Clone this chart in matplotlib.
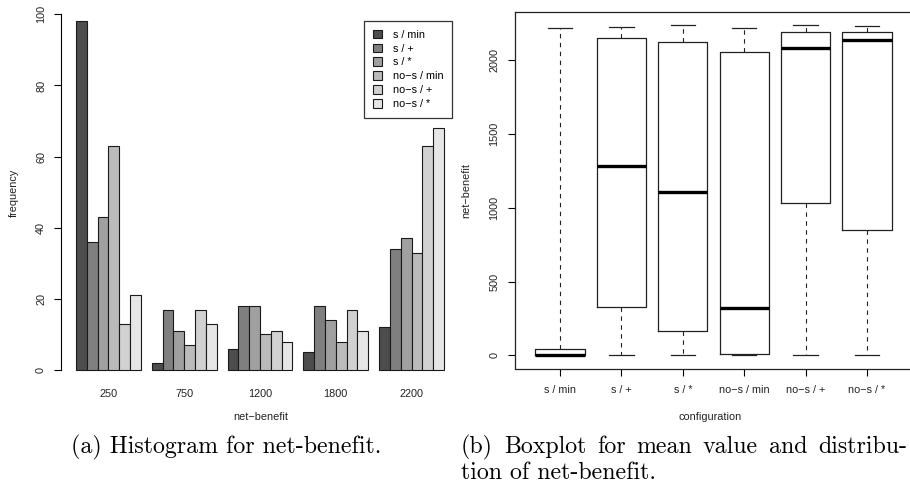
"""
Two-panel figure: grouped histogram of net-benefit and boxplot per configuration.
"""

import matplotlib
matplotlib.use("Agg")
import matplotlib.pyplot as plt
import numpy as np

# bins of net-benefit (x groups in panel a)
bins = ['250', '750', '1200', '1800', '2200']
configs = ['s / min', 's / +', 's / *',
           'no\u2212s / min', 'no\u2212s / +', 'no\u2212s / *']

# frequency per configuration across the bins
s_min = [98, 2, 6, 5, 12]
s_plus = [36, 17, 18, 18, 34]
s_star = [43, 11, 18, 14, 37]
nos_min = [63, 7, 10, 8, 33]
nos_plus = [13, 17, 11, 17, 63]
nos_star = [21, 13, 8, 11, 68]
freq = [s_min, s_plus, s_star, nos_min, nos_plus, nos_star]

# boxplot summary per configuration
whislo = [0, 0, 0, 0, 0, 0]
q1 = [0, 330, 163, 7, 1030, 852]
med = [5, 1285, 1107, 323, 2081, 2140]
q3 = [45, 2151, 2124, 2056, 2192, 2194]
whishi = [2217, 2224, 2237, 2221, 2237, 2231]

W, H = 910, 490
TICK_FONT = 'Liberation Sans'
FS = 7.8
TXT = '#222222'


def px_box(x0, y0, x1, y1):
    # pixel box (top-left origin) -> figure fraction rect
    return [x0 / W, (H - y1) / H, (x1 - x0) / W, (y1 - y0) / H]


def r_grays(n, start=0.3, end=0.9, gamma=2.2):
    # same ramp as R's gray.colors()
    v = np.linspace(start ** gamma, end ** gamma, n) ** (1 / gamma)
    return [(g, g, g) for g in v]


fig = plt.figure(figsize=(W / 100, H / 100), dpi=100)
plt.rcParams['font.family'] = [TICK_FONT, 'DejaVu Sans']

# ---------------- (a) grouped histogram ----------------
ax1 = fig.add_axes(px_box(61.3, 7.5, 458.7, 383.9))
colors = r_grays(len(configs))
n_cfg = len(configs)
handles = []
for i, (vals, col) in enumerate(zip(freq, colors)):
    lefts = [1 + g * (n_cfg + 1) + i for g in range(len(bins))]
    b = ax1.bar(lefts, vals, width=1, align='edge', color=col,
                edgecolor='#1a1a1a', linewidth=0.8, label=configs[i])
    handles.append(b)

centers = [1 + g * (n_cfg + 1) + n_cfg / 2 for g in range(len(bins))]
ax1.set_xlim(-0.36, 36.36)
ax1.set_ylim(-3.92, 101.92)
ax1.set_xticks(centers)
ax1.set_xticklabels(bins)
ax1.set_yticks([0, 20, 40, 60, 80, 100])
ax1.set_yticklabels(['0', '20', '40', '60', '80', '100'], rotation=90, va='center')
for s in ['top', 'right', 'bottom']:
    ax1.spines[s].set_visible(False)
ax1.spines['left'].set_bounds(0, 100)
ax1.spines['left'].set_linewidth(0.8)
ax1.tick_params(axis='x', length=0, pad=4, labelsize=FS, labelcolor=TXT)
ax1.tick_params(axis='y', length=5, width=0.8, pad=6, labelsize=FS, labelcolor=TXT)

leg = ax1.legend(handles=handles, labels=configs, loc='upper right',
                 bbox_to_anchor=(452 / W, 1 - 21 / H), bbox_transform=fig.transFigure,
                 borderaxespad=0, fontsize=FS, fancybox=False, framealpha=1,
                 handlelength=0.85, handleheight=0.85, handletextpad=1.0,
                 labelspacing=0.35, borderpad=0.8)
leg.get_frame().set_edgecolor('#333333')
leg.get_frame().set_linewidth(0.9)

fig.text(14 / W, 1 - 193 / H, 'frequency', rotation=90, ha='center', va='center',
         fontsize=FS, color=TXT)
fig.text(261 / W, 1 - 417 / H, 'net\u2212benefit', ha='center', va='center',
         fontsize=FS, color=TXT)

# ---------------- (b) boxplot ----------------
ax2 = fig.add_axes(px_box(514.6, 12.1, 912.4, 368.5))
stats = []
for i in range(len(configs)):
    stats.append({'whislo': whislo[i], 'q1': q1[i], 'med': med[i],
                  'q3': q3[i], 'whishi': whishi[i], 'fliers': []})
ax2.bxp(stats, positions=range(1, len(configs) + 1), widths=0.8, capwidths=0.4,
        showfliers=False, patch_artist=False,
        boxprops=dict(color='#222222', linewidth=0.9),
        medianprops=dict(color='black', linewidth=2.4, solid_capstyle='butt'),
        whiskerprops=dict(color='#222222', linewidth=0.8, linestyle=(0, (4, 4))),
        capprops=dict(color='#222222', linewidth=0.9))
ax2.set_xlim(0.26, 6.74)
ax2.set_ylim(-89.5, 2326.5)
ax2.set_xticks(range(1, len(configs) + 1))
ax2.set_xticklabels(configs)
ax2.set_yticks([0, 500, 1000, 1500, 2000])
ax2.set_yticklabels(['0', '500', '1000', '1500', '2000'], rotation=90, va='center')
for s in ax2.spines.values():
    s.set_linewidth(0.9)
    s.set_color('#222222')
ax2.tick_params(axis='both', length=5, width=0.8, labelsize=FS, labelcolor=TXT)
ax2.tick_params(axis='x', pad=7)
ax2.tick_params(axis='y', pad=6)

fig.text(466 / W, 1 - 190 / H, 'net\u2212benefit', rotation=90, ha='center', va='center',
         fontsize=FS, color=TXT)
fig.text(710 / W, 1 - 417 / H, 'configuration', ha='center', va='center',
         fontsize=FS, color=TXT)

# ---------------- captions ----------------
cap = dict(family=['cmr10', 'DejaVu Serif'], fontsize=17.2, color='black', va='baseline')
fig.text(71 / W, 1 - 453 / H, '(a) Histogram for net-benefit.', ha='left', **cap)
fig.text(461 / W, 1 - 479 / H, 'tion of net-benefit.', ha='left', **cap)

# first line of caption (b) is justified between two x limits like in LaTeX
words = '(b) Boxplot for mean value and distribu-'.split()
x_start, x_end = 461, 907
renderer = fig.canvas.get_renderer()
items = [fig.text(0, 1 - 453 / H, w, ha='left', **cap) for w in words]
widths = [t.get_window_extent(renderer).width for t in items]
gap = (x_end - x_start - sum(widths)) / (len(words) - 1)
x = x_start
for t, w in zip(items, widths):
    t.set_x(x / W)
    x += w + gap

fig.savefig('out.png', dpi=100)
